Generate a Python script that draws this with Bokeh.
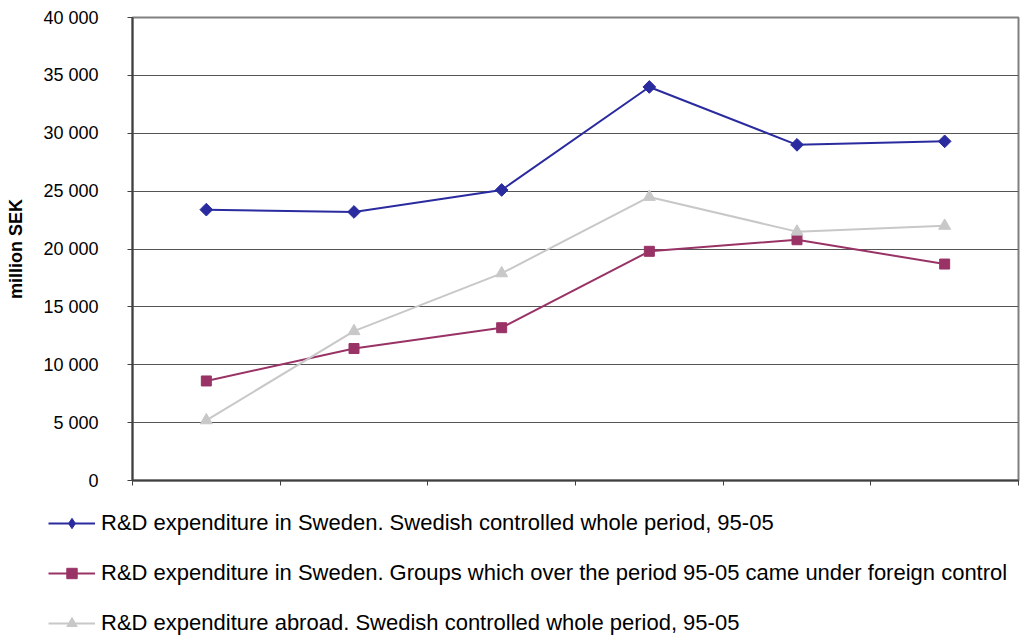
import math
from bokeh.plotting import figure
from bokeh.layouts import column
from bokeh.models import Legend, LegendItem, FixedTicker, Range1d
from bokeh.embed import file_html
from bokeh.resources import INLINE

# ---- data ----
categories = ["P1", "P2", "P3", "P4", "P5", "P6"]  # period categories (no axis labels shown)
sweden_swedish = [23400, 23200, 25100, 34000, 29000, 29300]
sweden_foreign = [8600, 11400, 13200, 19800, 20800, 18700]
abroad_swedish = [5200, 12900, 17900, 24500, 21500, 22000]

series_labels = [
    "R&D expenditure in Sweden. Swedish controlled whole period, 95-05",
    "R&D expenditure in Sweden. Groups which over the period 95-05 came under foreign control",
    "R&D expenditure abroad. Swedish controlled whole period, 95-05",
]

y_ticks = [0, 5000, 10000, 15000, 20000, 25000, 30000, 35000, 40000]
y_tick_labels = ["0", "5 000", "10 000", "15 000", "20 000", "25 000", "30 000", "35 000", "40 000"]

FONT = "Liberation Sans"

x = [i + 0.5 for i in range(len(categories))]
x_ticks = list(range(len(categories) + 1))

p = figure(width=1020, height=490, output_backend="svg", toolbar_location=None,
           x_range=Range1d(0, len(categories)), y_range=Range1d(y_ticks[0], y_ticks[-1]),
           min_border_left=132, min_border_right=2, min_border_top=17, min_border_bottom=10)
p.frame_align = False

p.outline_line_color = "#808080"
p.outline_line_width = 2

p.xgrid.visible = False
p.ygrid.grid_line_color = "#555555"
p.ygrid.grid_line_width = 1

# y axis
p.yaxis.ticker = FixedTicker(ticks=y_ticks)
p.yaxis.major_label_overrides = {t: l for t, l in zip(y_ticks, y_tick_labels)}
p.yaxis.major_label_text_font = FONT
p.yaxis.major_label_text_font_size = "18px"
p.yaxis.major_label_text_color = "black"
p.yaxis.major_label_standoff = 29
p.yaxis.major_tick_out = 5
p.yaxis.major_tick_in = 0
p.yaxis.minor_tick_line_color = None
p.yaxis.axis_line_color = "#404040"
p.yaxis.axis_line_width = 2
p.yaxis.major_tick_line_color = "#404040"
p.yaxis.axis_label = "million SEK"
p.yaxis.axis_label_text_font = FONT
p.yaxis.axis_label_text_font_size = "18px"
p.yaxis.axis_label_text_font_style = "bold"
p.yaxis.axis_label_text_color = "black"
p.yaxis.axis_label_standoff = 14

# x axis (no labels in the reference)
p.xaxis.ticker = FixedTicker(ticks=x_ticks)
p.xaxis.major_label_overrides = {t: "" for t in x_ticks}
p.xaxis.major_label_standoff = 0
p.xaxis.major_tick_out = 5
p.xaxis.major_tick_in = 0
p.xaxis.minor_tick_line_color = None
p.xaxis.axis_line_color = "#404040"
p.xaxis.axis_line_width = 2
p.xaxis.major_tick_line_color = "#404040"

colors = ["#2B2BA0", "#993366", "#C8C8C8"]
markers = ["square", "square", "triangle"]
angles = [math.pi / 4, 0, 0]
sizes = [9, 10, 12]
legend_markers = ["diamond", "square", "triangle"]
legend_sizes = [15, 10, 12]
data = [sweden_swedish, sweden_foreign, abroad_swedish]

for ys, c, m, a, s in zip(data, colors, markers, angles, sizes):
    p.line(x, ys, line_color=c, line_width=2)
    p.scatter(x, ys, marker=m, angle=a, size=s, fill_color=c, line_color=c)

# legend panel (separate figure below the chart; its glyphs lie outside its view)
lg = figure(width=1020, height=146, output_backend="svg", toolbar_location=None,
            x_range=Range1d(-100, -99), y_range=Range1d(-100, -99),
            x_axis_location=None, y_axis_location=None,
            min_border_left=0, min_border_right=0, min_border_top=0, min_border_bottom=0)
lg.frame_align = False
lg.outline_line_color = None
lg.xgrid.visible = False
lg.ygrid.visible = False

items = []
for ys, c, m, s, lab in zip(data, colors, legend_markers, legend_sizes, series_labels):
    lr = lg.line(x, ys, line_color=c, line_width=2)
    sr = lg.scatter(x, ys, marker=m, size=s, fill_color=c, line_color=c)
    items.append(LegendItem(label=lab, renderers=[lr, sr]))

legend = Legend(items=items, location=(48, 0), orientation="vertical",
                glyph_width=47, glyph_height=26, label_height=26, spacing=24,
                padding=0, margin=0, label_standoff=6,
                border_line_color=None, background_fill_alpha=0,
                label_text_font=FONT, label_text_font_size="22px",
                label_text_color="black")
lg.add_layout(legend, "center")

layout = column(p, lg, spacing=0)
open("out.html", "w").write(file_html(layout, INLINE))
